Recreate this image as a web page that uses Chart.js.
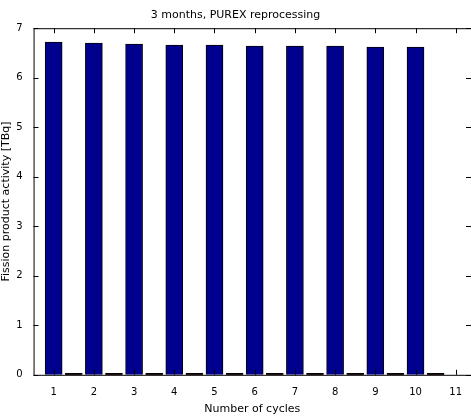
<!DOCTYPE html><html><head><script src="https://cdn.jsdelivr.net/npm/chart.js@4"></script>
<style>body{margin:0;background:#fff}#w{width:471px;height:420px}</style></head><body><div id="w"><canvas id="c"></canvas></div>
<script>
const cycles=[1,2,3,4,5,6,7,8,9,10];
const activity=[6.72,6.70,6.68,6.66,6.66,6.64,6.64,6.64,6.62,6.62];
const residual=[0.03,0.03,0.03,0.03,0.03,0.03,0.03,0.03,0.03,0.03];
const xTicks=[1,2,3,4,5,6,7,8,9,10,11];
const yTicks=[0,1,2,3,4,5,6,7];
const boxPlugin={id:'box',afterDraw(ch){const {ctx,chartArea:a,scales:{x,y}}=ch;ctx.save();ctx.strokeStyle='#000';ctx.lineWidth=1;
ctx.strokeRect(a.left+0.5,a.top+0.5,a.right-a.left,a.bottom-a.top);
ctx.beginPath();xTicks.forEach(t=>{const p=Math.round(x.getPixelForValue(t))+0.5;ctx.moveTo(p,a.bottom);ctx.lineTo(p,a.bottom-5);ctx.moveTo(p,a.top);ctx.lineTo(p,a.top+5);});
yTicks.forEach(t=>{const p=Math.round(y.getPixelForValue(t))+0.5;ctx.moveTo(a.left,p);ctx.lineTo(a.left+5,p);ctx.moveTo(a.right,p);ctx.lineTo(a.right-5,p);});
ctx.stroke();ctx.restore();}};
new Chart(document.getElementById('c'),{type:'bar',
data:{datasets:[
{data:cycles.map((c,i)=>({x:c,y:activity[i]})),backgroundColor:'#00008f',borderColor:'#000',borderWidth:1,barThickness:17,grouped:false},
{data:cycles.map((c,i)=>({x:c+0.5,y:residual[i]})),backgroundColor:'#200000',borderColor:'#000',borderWidth:1,barThickness:17,grouped:false}]},
options:{animation:false,responsive:true,maintainAspectRatio:false,
layout:{padding:{top:0,right:0,left:0,bottom:0}},
plugins:{legend:{display:false},tooltip:{enabled:false},title:{display:true,text:'3 months, PUREX reprocessing',color:'#000',font:{family:'DejaVu Sans',size:11,weight:'normal'},padding:{top:9,bottom:6}}},
scales:{
x:{type:'linear',min:0.5,max:11.38,offset:false,grid:{display:false},border:{display:false},
afterBuildTicks(s){s.ticks=xTicks.map(v=>({value:v}));},
ticks:{color:'#000',font:{family:'DejaVu Sans',size:10},autoSkip:false,maxRotation:0,padding:4},
title:{display:true,text:'Number of cycles',color:'#000',font:{family:'DejaVu Sans',size:11},padding:{top:0,bottom:4}}},
y:{min:0,max:7,grid:{display:false},border:{display:false},
afterBuildTicks(s){s.ticks=yTicks.map(v=>({value:v}));},
ticks:{color:'#000',font:{family:'DejaVu Sans',size:10},padding:3},
title:{display:true,text:'Fission product activity [TBq]',color:'#000',font:{family:'DejaVu Sans',size:11},padding:{top:0,bottom:0}}}}},
plugins:[boxPlugin]});
</script></body></html>
